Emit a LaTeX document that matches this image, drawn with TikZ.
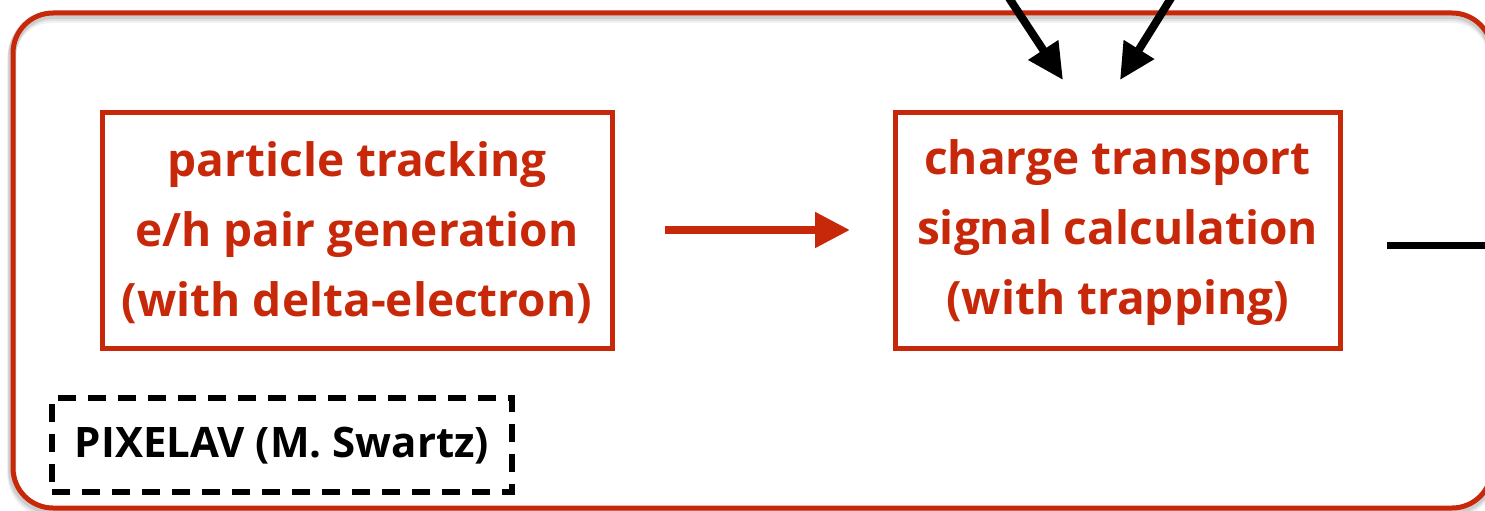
\documentclass[tikz,border=0pt]{standalone}
\usepackage{fontspec}
\setmainfont{Open Sans}
\usetikzlibrary{arrows.meta}
\definecolor{myred}{RGB}{200,40,10}
\tikzset{
  redbox/.style={draw=myred, line width=5pt, text=myred, font=\fontsize{46}{70}\selectfont\bfseries, align=center, inner sep=0pt},
  redarrow/.style={draw=myred, line width=8pt, -{Triangle[length=35pt,width=34pt]}},
  blackarrow/.style={draw=black, line width=8pt, -{Triangle[length=36pt,width=34pt]}},
}
\begin{document}
\begin{tikzpicture}[x=1pt,y=-1pt]
\useasboundingbox (0,0) rectangle (1485,511);
\clip (0,0) rectangle (1485,511);
% shadow of outer frame
\foreach \o/\a in {6/0.05,4/0.07,2/0.09}{
  \draw[black, opacity=\a, line width=8pt, rounded corners=40pt] (13-\o*0.3,13+\o) rectangle (1492,508+\o);
}
\draw[myred, line width=5pt, rounded corners=40pt] (13,13) rectangle (1492,508);
% boxes
\node[redbox, minimum width=510pt, minimum height=236pt] (gen) at (357,230) {};
\node[text=myred, font=\fontsize{46}{70}\selectfont\bfseries, align=center, inner sep=0pt] (gentext) at (357,233) {particle tracking\\e/h pair generation\\(with delta-electron)};
\node[redbox, minimum width=445pt, minimum height=236pt] (trans) at (1117.5,230) {};
\node[text=myred, font=\fontsize{46}{70}\selectfont\bfseries, align=center, inner sep=0pt] (transtext) at (1117.5,233) {charge transport\\signal calculation\\(with trapping)};
\node[draw=black, line width=6pt, dash pattern=on 18pt off 12pt, minimum width=460pt, minimum height=94pt, inner sep=0pt] (pix) at (282,445) {};
\node[font=\fontsize{42}{50}\selectfont\bfseries, inner sep=0pt] (pixtext) at (282,446) {PIXELAV (M. Swartz)};
% connectors
\coordinate (a1) at (665,230);
\coordinate (a2) at (850,230);
\draw[redarrow] (a1) -- (a2);
\coordinate (t1) at (1007,-5);
\coordinate (h1) at (1063,80);
\coordinate (t2) at (1173,-5);
\coordinate (h2) at (1120,80);
\draw[blackarrow] (t1) -- (h1);
\draw[blackarrow] (t2) -- (h2);
\coordinate (o1) at (1387,245);
\coordinate (o2) at (1490,245);
\draw[black, line width=7pt] (o1) -- (o2);
\end{tikzpicture}
\end{document}
